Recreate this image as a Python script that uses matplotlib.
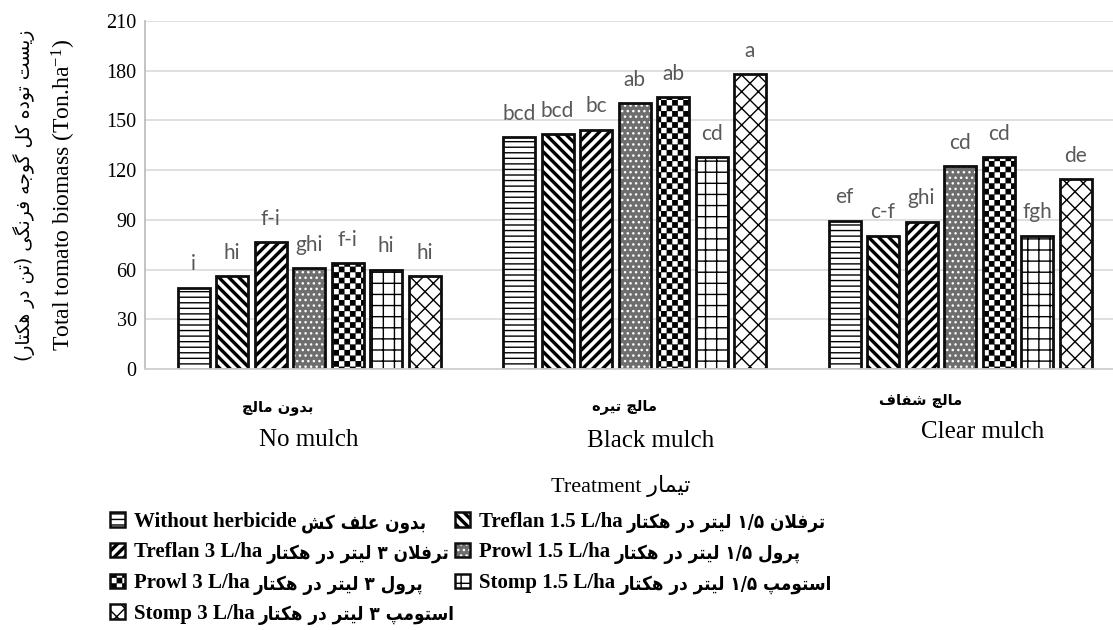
import warnings
warnings.filterwarnings('ignore')
import numpy as np
import matplotlib
matplotlib.use('Agg')
import matplotlib.pyplot as plt
import matplotlib.hatch as mhatch
import matplotlib.transforms as mtrans
from matplotlib.path import Path
from matplotlib.patches import Patch
from matplotlib.legend_handler import HandlerTuple

# ---------------- data ----------------
groups_en = ['No mulch', 'Black mulch', 'Clear mulch']
groups_fa = ['بدون مالچ', 'مالچ تیره', 'مالچ شفاف']
treat_en = ['Without herbicide', 'Treflan 1.5 L/ha', 'Treflan 3 L/ha', 'Prowl 1.5 L/ha',
            'Prowl 3 L/ha', 'Stomp 1.5 L/ha', 'Stomp 3 L/ha']
treat_fa = ['بدون علف کش', 'ترفلان ۱/۵ لیتر در هکتار', 'ترفلان ۳ لیتر در هکتار',
            'پرول ۱/۵ لیتر در هکتار', 'پرول ۳ لیتر در هکتار', 'استومپ ۱/۵ لیتر در هکتار',
            'استومپ ۳ لیتر در هکتار']
no_mulch = [49, 56, 76.5, 61, 64, 60, 56]
black_mulch = [140, 141.5, 144.5, 160.5, 164, 128, 178]
clear_mulch = [89.5, 80.5, 89, 122.5, 128, 80.5, 114.5]
letters_no = ['i', 'hi', 'f-i', 'ghi', 'f-i', 'hi', 'hi']
letters_black = ['bcd', 'bcd', 'bc', 'ab', 'ab', 'cd', 'a']
letters_clear = ['ef', 'c-f', 'ghi', 'cd', 'cd', 'fgh', 'de']
yticks = [0, 30, 60, 90, 120, 150, 180, 210]
ylabel_en = 'Total tomato biomass (Ton.ha$\\mathregular{^{-1}}$)'
ylabel_fa = 'زیست توده کل گوجه فرنگی (تن در هکتار)'
xlabel_en = 'Treatment'
xlabel_fa = 'تیمار'

values = [no_mulch, black_mulch, clear_mulch]
letters = [letters_no, letters_black, letters_clear]

# ---------------- minimal Persian shaping (visual order) ----------------
FORMS = {
    'ا': ('\uFE8D', '\uFE8E', None, None),
    'ب': ('\uFE8F', '\uFE90', '\uFE91', '\uFE92'),
    'پ': ('\uFB56', '\uFB57', '\uFB58', '\uFB59'),
    'ت': ('\uFE95', '\uFE96', '\uFE97', '\uFE98'),
    'ج': ('\uFE9D', '\uFE9E', '\uFE9F', '\uFEA0'),
    'چ': ('\uFB7A', '\uFB7B', '\uFB7C', '\uFB7D'),
    'د': ('\uFEA9', '\uFEAA', None, None),
    'ر': ('\uFEAD', '\uFEAE', None, None),
    'ز': ('\uFEAF', '\uFEB0', None, None),
    'س': ('\uFEB1', '\uFEB2', '\uFEB3', '\uFEB4'),
    'ش': ('\uFEB5', '\uFEB6', '\uFEB7', '\uFEB8'),
    'ع': ('\uFEC9', '\uFECA', '\uFECB', '\uFECC'),
    'ف': ('\uFED1', '\uFED2', '\uFED3', '\uFED4'),
    'ک': ('\uFB8E', '\uFB8F', '\uFB90', '\uFB91'),
    'گ': ('\uFB92', '\uFB93', '\uFB94', '\uFB95'),
    'ل': ('\uFEDD', '\uFEDE', '\uFEDF', '\uFEE0'),
    'م': ('\uFEE1', '\uFEE2', '\uFEE3', '\uFEE4'),
    'ن': ('\uFEE5', '\uFEE6', '\uFEE7', '\uFEE8'),
    'و': ('\uFEED', '\uFEEE', None, None),
    'ه': ('\uFEE9', '\uFEEA', '\uFEEB', '\uFEEC'),
    'ی': ('\uFBFC', '\uFBFD', '\uFBFE', '\uFBFF'),
    '\uFEFB': ('\uFEFB', '\uFEFC', None, None),
}
MIRROR = {'(': ')', ')': '('}


def shape_word(word):
    chars = list(word.replace('لا', '\uFEFB'))
    n = len(chars)
    res = []
    for i, c in enumerate(chars):
        if c not in FORMS:
            res.append(c)
            continue
        prev = chars[i - 1] if i > 0 else None
        nxt = chars[i + 1] if i + 1 < n else None
        prev_j = prev in FORMS and FORMS[prev][2] is not None
        next_j = FORMS[c][2] is not None and nxt in FORMS
        iso, fin, ini, med = FORMS[c]
        if prev_j and next_j:
            res.append(med)
        elif prev_j:
            res.append(fin)
        elif next_j:
            res.append(ini)
        else:
            res.append(iso)
    return ''.join(MIRROR.get(ch, ch) for ch in reversed(res))


def fa(text):
    out = []
    for tok in text.split(' '):
        if all(ch in '۰۱۲۳۴۵۶۷۸۹/.0123456789' for ch in tok):
            out.append(tok)
        else:
            out.append(shape_word(tok))
    return ' '.join(reversed(out))


# ---------------- custom hatches ----------------
def _quad(vertices, codes, k, pts):
    vertices[k:k + 5] = pts + [pts[0]]
    codes[k] = Path.MOVETO
    codes[k + 1:k + 4] = Path.LINETO
    codes[k + 4] = Path.CLOSEPOLY


class CheckerHatch(mhatch.HatchPatternBase):
    def __init__(self, hatch, density):
        self.n = hatch.count('C') * 18
        self.cells = [(r, c) for r in range(self.n) for c in range(self.n) if (r + c) % 2 == 0]
        self.num_vertices = len(self.cells) * 5

    def set_vertices_and_codes(self, vertices, codes):
        s = 1.0 / self.n
        e = 0.006
        for k, (r, c) in enumerate(self.cells):
            x0, y0 = c * s + e, r * s + e
            x1, y1 = (c + 1) * s - e, (r + 1) * s - e
            _quad(vertices, codes, 5 * k, [(x0, y0), (x1, y0), (x1, y1), (x0, y1)])


class GridHatch(mhatch.HatchPatternBase):
    def __init__(self, hatch, density):
        self.n = hatch.count('G') * 9
        self.num_vertices = self.n * 4

    def set_vertices_and_codes(self, vertices, codes):
        steps = (np.arange(self.n) + 0.5) / self.n
        m = self.n
        vertices[0:2 * m:2] = np.column_stack([np.zeros(m), steps])
        vertices[1:2 * m:2] = np.column_stack([np.ones(m), steps])
        vertices[2 * m::2] = np.column_stack([steps, np.zeros(m)])
        vertices[2 * m + 1::2] = np.column_stack([steps, np.ones(m)])
        codes[0::2] = Path.MOVETO
        codes[1::2] = Path.LINETO


class StripeHatch(mhatch.HatchPatternBase):
    """thick filled diagonal stripes: 'N' = '/', 'S' = '\\'"""
    def __init__(self, hatch, density):
        self.ne = hatch.count('N') * 10
        self.se = hatch.count('S') * 10
        cnt = (2 * self.ne + 1 if self.ne else 0) + (2 * self.se + 1 if self.se else 0)
        self.num_vertices = cnt * 5

    def set_vertices_and_codes(self, vertices, codes):
        h = 0.028
        k = 0
        if self.ne:
            for t in np.arange(-self.ne, self.ne + 1) / self.ne:
                _quad(vertices, codes, k, [(t, 0), (t + h, 0), (1 + t + h, 1), (1 + t, 1)])
                k += 5
        if self.se:
            for t in np.arange(0, 2 * self.se + 1) / self.se:
                _quad(vertices, codes, k, [(t, 0), (t + h, 0), (t + h - 1, 1), (t - 1, 1)])
                k += 5


mhatch._hatch_types.extend([CheckerHatch, GridHatch, StripeHatch])

# ---------------- styles ----------------
face = ['white', 'white', 'white', '#6e6e6e', 'white', 'white', 'white']
hatches = ['---', 'S', 'N', '...', 'C', 'G', 'xx']
hcolors = ['black', 'black', 'black', 'white', 'black', 'black', 'black']

EN = 'Liberation Serif'
FA_FAM = ['Liberation Serif', 'DejaVu Sans']
plt.rcParams['mathtext.fontset'] = 'custom'
plt.rcParams['mathtext.rm'] = EN
plt.rcParams['hatch.linewidth'] = 1.0

fig = plt.figure(figsize=(11.13, 6.30), dpi=100)
ax = fig.add_axes([0.1303, 0.4143, 0.8697, 0.5524])

n_t = len(treat_en)
pitch = 0.1183
width = 0.0983
x = np.arange(len(groups_en))
handles = []
for j in range(n_t):
    pos = x + (j - (n_t - 1) / 2) * pitch
    vals = [values[g][j] for g in range(len(groups_en))]
    ax.bar(pos, vals, width, color=face[j], hatch=hatches[j], edgecolor=hcolors[j],
           linewidth=0, zorder=2)
    ax.bar(pos, vals, width, fill=False, edgecolor='#0d0d0d', linewidth=2.0, zorder=3)
    for g in range(len(groups_en)):
        ax.annotate(letters[g][j], (pos[g], vals[g]), xytext=(0, 12.5),
                    textcoords='offset points', ha='center', va='baseline',
                    fontsize=15, color='#595959', family=['Lato', 'DejaVu Sans'])
    handles.append((Patch(facecolor=face[j], hatch=hatches[j], edgecolor=hcolors[j], linewidth=0),
                    Patch(fill=False, edgecolor='#0d0d0d', linewidth=1.8)))

ax.set_xlim(-0.504, 2.47)
ax.set_ylim(0, 210)
ax.set_yticks(yticks)
ax.set_yticklabels([str(v) for v in yticks], fontsize=14.5, family=EN)
ax.set_xticks([])
ax.tick_params(axis='y', length=0, pad=6)
ax.grid(axis='y', color='#d9d9d9', linewidth=1.2, zorder=0)
ax.set_axisbelow(True)
for s in ['top', 'right']:
    ax.spines[s].set_visible(False)
ax.spines['left'].set_color('#bfbfbf')
ax.spines['left'].set_linewidth(1.3)
ax.spines['bottom'].set_color('#d0d0d0')
ax.spines['bottom'].set_linewidth(1.3)
ax.spines['bottom'].set_zorder(4)

# category labels
tr = mtrans.blended_transform_factory(ax.transData, ax.transAxes)
fa_dx = [-0.095, -0.03, -0.12]
en_dx = [0.0, 0.05, 0.07]
fa_y = [-0.112, -0.108, -0.09]
en_y = [-0.205, -0.207, -0.18]
for g in range(len(groups_en)):
    ax.text(x[g] + fa_dx[g], fa_y[g], fa(groups_fa[g]), transform=tr, ha='center', va='center',
            fontsize=10.5, fontweight='bold', family=['DejaVu Sans'])
    ax.text(x[g] + en_dx[g], en_y[g], groups_en[g], transform=tr, ha='center', va='center',
            fontsize=18, family=EN)

# axis titles
fig.text(0.558, 0.228, xlabel_en + ' ' + fa(xlabel_fa), ha='center', va='center',
         fontsize=16, family=FA_FAM)
fig.text(0.0575, 0.69, ylabel_en, rotation=90, ha='center', va='center', fontsize=17, family=EN)
fig.text(0.022, 0.69, fa(ylabel_fa), rotation=90, ha='center', va='center', fontsize=13.5,
         family=['DejaVu Sans'])

# legend (two columns, row-wise order); Persian part added right after each English label
col1 = [0, 2, 4, 6]
col2 = [1, 3, 5]
common = dict(loc='upper left', frameon=False, handlelength=0.7, handleheight=0.7,
              handletextpad=0.45, labelspacing=0.52, borderpad=0, borderaxespad=0,
              handler_map={tuple: HandlerTuple(ndivide=1, pad=0)},
              prop={'family': EN, 'size': 15, 'weight': 'bold'})
leg1 = fig.legend([handles[j] for j in col1], [treat_en[j] for j in col1],
                  bbox_to_anchor=(0.099, 0.188), **common)
leg2 = fig.legend([handles[j] for j in col2], [treat_en[j] for j in col2],
                  bbox_to_anchor=(0.409, 0.188), **common)

fig.canvas.draw()
renderer = fig.canvas.get_renderer()
for leg, idx in ((leg1, col1), (leg2, col2)):
    for t, j in zip(leg.get_texts(), idx):
        bb = t.get_window_extent(renderer)
        fig.text(bb.x1 + 4, bb.y0 + 0.42 * bb.height, fa(treat_fa[j]), transform=None,
                 ha='left', va='center', fontsize=13.5, fontweight='bold',
                 fontstretch='condensed', family=['DejaVu Sans'])

fig.savefig('out.png', dpi=100)
